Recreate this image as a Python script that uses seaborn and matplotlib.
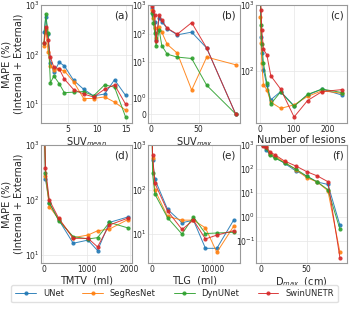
import pandas as pd
import matplotlib.pyplot as plt
import seaborn as sns

models = ["UNet", "SegResNet", "DynUNet", "SwinUNETR"]

# (a) SUVmean
suvmean_x = [0.9, 1.2, 1.6, 2.0, 2.6, 3.5, 4.4, 6.0, 7.7, 9.4, 11.3, 13.0, 14.9]
suvmean_unet = [280, 560, 255, 67, 44, 70, 59, 30, 20, 14.7, 16, 31, 15]
suvmean_segres = [150, 330, 115, 60, 49, 50, 47, 28, 13, 13, 14, 11, 7.6]
suvmean_dyn = [175, 660, 270, 27, 37, 26, 17, 17.5, 18, 14.7, 24.5, 22, 5.5]
suvmean_swin = [170, 365, 198, 89, 55, 52, 32, 19.6, 16, 14, 20, 24.5, 10]

# (b) SUVmax
suvmax_x = [1.0, 2.5, 3.8, 5.2, 8.5, 11.2, 16.9, 27.5, 42.6, 58.4, 88.7]
suvmax_unet = [800, 450, 250, 60, 350, 260, 150, 90, 112, 31, 0]
suvmax_segres = [690, 347, 154, 69, 166, 112, 42, 20.6, 1.5, 15, 8.1]
suvmax_dyn = [540, 230, 103, 38, 134, 38, 19, 15, 13.4, 1.8, 0]
suvmax_swin = [950, 600, 430, 57, 440, 290, 154, 95, 241, 31, 0]

# (c) number of lesions
lesions_x = [1, 3, 5, 10, 20, 32, 61, 101, 141, 184, 243]
lesions_unet = [1200, 330, 185, 103, 61, 36.5, 48.6, 29.5, 43, 53, 43]
lesions_segres = [665, 263, 131, 61, 52, 33.6, 27, 30.5, 41, 50, 45.7]
lesions_dyn = [1100, 500, 260, 131, 65, 31.6, 48, 29, 44, 53, 47]
lesions_swin = [1500, 840, 418, 213, 175, 84, 53, 20, 35.5, 48.6, 52]

# (d) TMTV
tmtv_x = [15, 47, 135, 353, 690, 1035, 1256, 1530, 1960]
tmtv_unet = [4000, 238, 89, 43.5, 16.3, 18.6, 12, 39, 49]
tmtv_segres = [4000, 275, 76, 45, 20.6, 23, 27.5, 29.5, 44]
tmtv_dyn = [4000, 306, 89, 42, 21.6, 19.5, 20.6, 39, 31]
tmtv_swin = [4000, 377, 100, 46.5, 20, 20, 14, 35, 46.7]

# (e) TLG
tlg_x = [20, 110, 500, 2600, 5000, 6880, 8880, 10770, 13550]
tlg_unet = [4000, 460, 170, 36, 18, 20.6, 4.8, 4.8, 20.6]
tlg_segres = [4000, 500, 97, 25, 20.6, 20.6, 13.8, 3.9, 15]
tlg_dyn = [4000, 230, 79, 23.3, 10, 24.5, 10.3, 10.6, 11]
tlg_swin = [4000, 595, 138, 33, 12.7, 20.6, 7.8, 9.5, 11.9]

# (f) Dmax
dmax_x = [3, 6, 10, 16, 26, 38.5, 50, 61.5, 73, 86]
dmax_unet = [1000, 620, 420, 310, 172, 83, 51, 29, 23, 0.47]
dmax_segres = [1000, 880, 440, 330, 190, 95, 44, 29, 12.6, 0.036]
dmax_dyn = [1000, 730, 380, 278, 183, 98, 51, 29, 14, 0.32]
dmax_swin = [950, 800, 525, 380, 215, 133, 78, 52, 30, 0.021]

panels = [
    ("(a)", "SUV$_{mean}$", suvmean_x, [suvmean_unet, suvmean_segres, suvmean_dyn, suvmean_swin]),
    ("(b)", "SUV$_{max}$", suvmax_x, [suvmax_unet, suvmax_segres, suvmax_dyn, suvmax_swin]),
    ("(c)", "Number of lesions", lesions_x, [lesions_unet, lesions_segres, lesions_dyn, lesions_swin]),
    ("(d)", "TMTV  (ml)", tmtv_x, [tmtv_unet, tmtv_segres, tmtv_dyn, tmtv_swin]),
    ("(e)", "TLG  (ml)", tlg_x, [tlg_unet, tlg_segres, tlg_dyn, tlg_swin]),
    ("(f)", "D$_{max}$  (cm)", dmax_x, [dmax_unet, dmax_segres, dmax_dyn, dmax_swin]),
]

xlims = [(0.36, 16), (-2.8, 93), (-12, 259), (-61, 2056), (-570, 14550), (-5, 94)]
ylims = [(4.1, 1000), (-0.6, 1000), (16, 1000), (7, 1000), (2.2, 1000), (0.012, 1000)]

sns.set_style("whitegrid", {"axes.edgecolor": "0.6", "grid.color": "0.9"})
plt.rcParams["axes.linewidth"] = 0.8
plt.rcParams["grid.linewidth"] = 0.5

fig, axes = plt.subplots(2, 3, figsize=(3.49, 3.11), dpi=100)
fig.subplots_adjust(left=0.117, right=0.995, top=0.984, bottom=0.153, wspace=0.18, hspace=0.183)

handles, labels = None, None
for i, (ax, (tag, xlabel, xs, series)) in enumerate(zip(axes.flat, panels)):
    rows = []
    for m, vals in zip(models, series):
        for xv, yv in zip(xs, vals):
            rows.append({"x": xv, "y": yv, "model": m})
    df = pd.DataFrame(rows)
    if tag == "(b)":
        ax.set_yscale("symlog")
    else:
        ax.set_yscale("log")
    sns.lineplot(data=df, x="x", y="y", hue="model", hue_order=models,
                 marker="o", markersize=3, markeredgewidth=0, linewidth=0.7,
                 alpha=0.9, ax=ax, legend=(i == 0))
    if i == 0:
        handles, labels = ax.get_legend_handles_labels()
        ax.get_legend().remove()
    ax.set_xlim(*xlims[i])
    ax.set_ylim(*ylims[i])
    ax.set_xlabel(xlabel, fontsize=7, labelpad=1)
    if i % 3 == 0:
        ax.set_ylabel("MAPE (%)\n(Internal + External)", fontsize=7, labelpad=1)
    else:
        ax.set_ylabel("")
    ax.tick_params(labelsize=5.5, pad=1, length=0)
    ax.text(0.96, 0.95, tag, transform=ax.transAxes, ha="right", va="top", fontsize=7.5)

fig.legend(handles, labels, loc="lower center", bbox_to_anchor=(0.5, 0.015), ncol=4,
           fontsize=6, frameon=True, handlelength=2.5, columnspacing=2.2,
           edgecolor="0.85", borderpad=0.5)

fig.savefig("out.png", dpi=100)
